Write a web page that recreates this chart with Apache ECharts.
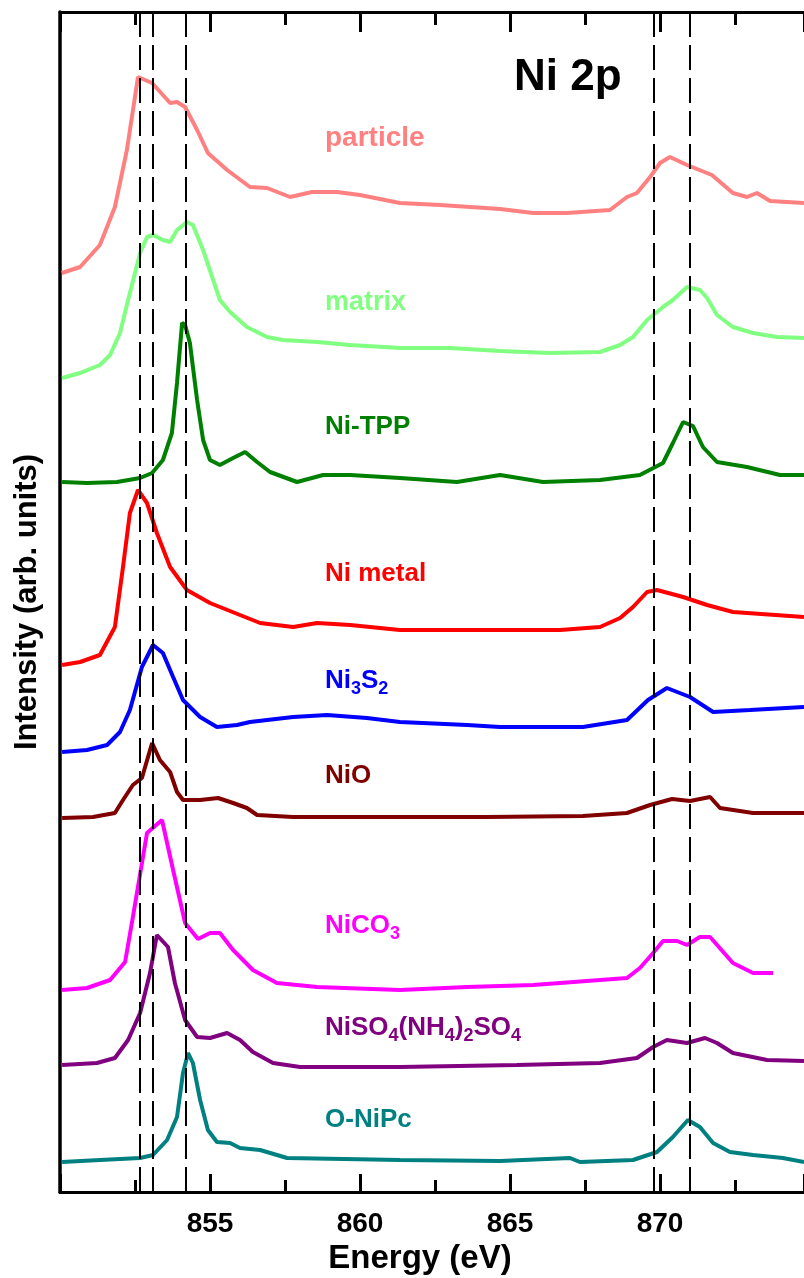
<!DOCTYPE html>
<html>
<head>
<meta charset="utf-8">
<script src="https://cdn.jsdelivr.net/npm/echarts@6/dist/echarts.min.js"></script>
<style>
  html, body { margin: 0; padding: 0; background: #fff; }
  #chart { width: 804px; height: 1278px; }
</style>
</head>
<body>
<div id="chart"></div>
<script>
// Ni 2p spectra, stacked with offsets: [energy (eV), intensity (arb. units)]
const particle = [[850.06, 919], [850.67, 925], [851.33, 947], [851.83, 985], [852.23, 1042], [852.60, 1115], [853.07, 1109], [853.43, 1097], [853.67, 1089], [853.90, 1090], [854.17, 1085], [854.57, 1062], [854.93, 1039], [855.57, 1022], [856.33, 1005], [856.90, 1004], [857.67, 995], [858.40, 1000], [859.23, 1000], [860.00, 997], [861.33, 989], [862.67, 987], [864.67, 983], [865.77, 979], [866.90, 979], [868.33, 982], [868.90, 995], [869.23, 999], [869.67, 1015], [870.00, 1029], [870.33, 1035], [870.90, 1027], [871.73, 1017], [872.43, 999], [872.90, 995], [873.23, 999], [873.67, 991], [874.80, 989]];
const matrix = [[850.07, 814], [850.67, 819], [851.33, 827], [851.67, 837], [852.00, 859], [852.27, 892], [852.67, 939], [852.90, 955], [853.10, 957], [853.43, 952], [853.67, 950], [853.90, 962], [854.23, 970], [854.43, 967], [854.77, 942], [855.33, 892], [855.67, 880], [856.23, 865], [856.90, 855], [857.43, 852], [858.57, 850], [859.67, 847], [861.33, 844], [863.00, 844], [864.67, 841], [866.33, 839], [868.00, 840], [868.67, 847], [869.10, 855], [869.57, 872], [870.10, 885], [870.43, 892], [870.90, 905], [871.33, 902], [871.57, 894], [871.90, 877], [872.43, 865], [873.10, 859], [873.90, 855], [874.80, 854]];
const niTPP = [[850.07, 710], [850.90, 709], [851.90, 710], [852.67, 714], [853.07, 719], [853.43, 732], [853.73, 759], [853.90, 809], [854.07, 869], [854.17, 867], [854.33, 849], [854.57, 792], [854.77, 752], [855.00, 732], [855.33, 727], [855.77, 734], [856.17, 740], [856.57, 730], [857.00, 720], [857.90, 710], [858.77, 717], [859.67, 717], [861.33, 714], [863.23, 710], [864.67, 717], [866.10, 710], [868.00, 712], [869.33, 717], [870.10, 729], [870.43, 749], [870.77, 770], [871.10, 766], [871.43, 745], [871.90, 730], [872.90, 725], [874.00, 717], [874.80, 717]];
const niMetal = [[850.07, 527], [850.67, 530], [851.33, 537], [851.83, 565], [852.10, 625], [852.33, 679], [852.60, 702], [852.90, 689], [853.23, 659], [853.67, 625], [854.23, 602], [855.00, 589], [856.00, 577], [856.67, 569], [857.77, 565], [858.57, 569], [859.67, 567], [861.33, 562], [863.57, 562], [866.67, 562], [868.00, 565], [868.67, 574], [869.10, 585], [869.57, 600], [869.90, 602], [870.77, 595], [871.57, 587], [872.43, 580], [874.80, 575]];
const ni3S2 = [[850.07, 440], [850.90, 442], [851.57, 447], [852.00, 460], [852.33, 482], [852.73, 525], [853.10, 547], [853.43, 539], [853.77, 515], [854.10, 492], [854.67, 475], [855.23, 465], [855.90, 467], [856.33, 470], [857.77, 475], [858.90, 477], [860.23, 474], [861.33, 470], [863.57, 467], [864.67, 465], [867.43, 465], [868.90, 472], [869.60, 492], [870.23, 504], [871.00, 495], [871.77, 480], [873.00, 482], [874.80, 485]];
const niO = [[850.07, 374], [851.10, 375], [851.83, 379], [852.10, 392], [852.43, 407], [852.73, 414], [853.07, 449], [853.33, 432], [853.67, 420], [853.90, 400], [854.10, 392], [854.67, 392], [855.27, 394], [855.77, 389], [856.23, 384], [856.57, 377], [857.77, 375], [861.33, 375], [864.23, 375], [867.43, 376], [868.90, 379], [869.67, 387], [870.40, 393], [871.00, 391], [871.67, 395], [872.00, 384], [873.10, 379], [874.80, 379]];
const niCO3 = [[850.07, 202], [850.90, 204], [851.67, 212], [852.17, 230], [852.43, 275], [852.90, 359], [853.40, 372], [853.77, 322], [854.17, 269], [854.60, 253], [855.00, 259], [855.33, 259], [855.77, 242], [856.43, 222], [857.23, 209], [858.57, 205], [861.33, 202], [863.57, 205], [865.77, 207], [868.90, 214], [869.33, 224], [869.77, 239], [870.10, 251], [870.57, 251], [870.90, 247], [871.33, 255], [871.67, 255], [872.43, 229], [873.10, 219], [873.77, 219]];
const niSO4 = [[850.07, 127], [851.23, 129], [851.83, 134], [852.27, 152], [852.67, 179], [853.00, 219], [853.23, 257], [853.60, 245], [853.83, 209], [854.17, 172], [854.57, 155], [855.00, 154], [855.57, 159], [856.00, 152], [856.43, 140], [857.10, 129], [858.00, 125], [861.33, 125], [865.23, 127], [868.00, 129], [869.23, 134], [869.77, 145], [870.23, 152], [870.90, 149], [871.50, 154], [871.90, 149], [872.43, 139], [873.57, 132], [874.80, 131]];
const oNiPc = [[850.07, 30], [851.33, 32], [852.67, 34], [853.10, 37], [853.57, 52], [853.90, 75], [854.10, 119], [854.27, 139], [854.43, 129], [854.67, 92], [854.93, 62], [855.23, 50], [855.67, 49], [856.00, 44], [856.67, 42], [857.57, 34], [861.33, 32], [864.67, 31], [867.00, 34], [867.33, 30], [869.10, 32], [869.90, 40], [870.43, 55], [870.93, 72], [871.33, 65], [871.77, 49], [872.33, 40], [873.10, 37], [874.10, 34], [874.80, 30]];

// reference peak positions (eV)
const dashedLines = [852.67, 853.08, 854.19, 869.78, 871.0];

const seriesNames = ["particle", "matrix", "Ni-TPP", "Ni metal", "Ni3S2", "NiO", "NiCO3", "NiSO4(NH4)2SO4", "O-NiPc"];
const seriesData = [particle, matrix, niTPP, niMetal, ni3S2, niO, niCO3, niSO4, oNiPc];
const seriesColors = ["#ff8080", "#80ff80", "#008000", "#ff0000", "#0000ff", "#800000", "#ff00ff", "#800080", "#008080"];

const FONT = "'Liberation Sans', Arial, sans-serif";
const measureCtx = document.createElement("canvas").getContext("2d");

// label made of pieces, subscripts drawn smaller and lower
function seriesLabel (x, y, color, parts, size) {
    size = size || 26;
    const children = [];
    let cx = x;
    parts.forEach(p => {
        const fs = p[1] ? Math.round(size * 0.7) : size;
        const font = `bold ${fs}px ${FONT}`;
        measureCtx.font = font;
        children.push({
            type: "text",
            x: cx,
            y: p[1] ? y + 8 : y,
            style: { text: p[0], font: font, fill: color, verticalAlign: "middle", align: "left" }
        });
        cx += measureCtx.measureText(p[0]).width;
    });
    return { type: "group", children: children };
}

const chart = echarts.init(document.getElementById("chart"));
const option = {
    animation: false,
    backgroundColor: "#fff",
    grid: { left: 60, right: 0, top: 12, bottom: 86, containLabel: false, outerBoundsMode: "none" },
    xAxis: [
        {
            type: "value",
            min: 850,
            max: 874.8,
            interval: 5,
            position: "bottom",
            name: "Energy (eV)",
            nameLocation: "middle",
            nameGap: 50,
            nameTextStyle: { fontSize: 33, fontWeight: "bold", fontFamily: FONT, color: "#000", padding: [0, 24, 0, 0] },
            axisLine: { lineStyle: { color: "#000", width: 3 } },
            axisTick: { inside: true, length: 18, lineStyle: { width: 3, color: "#000" } },
            minorTick: { show: true, splitNumber: 2, length: 12, lineStyle: { width: 3, color: "#000" } },
            axisLabel: {
                margin: 18,
                fontSize: 28,
                fontWeight: "bold",
                fontFamily: FONT,
                color: "#000",
                showMinLabel: false,
                showMaxLabel: false,
                formatter: v => (v > 850 && v % 5 === 0 ? String(v) : "")
            },
            splitLine: { show: false }
        },
        {
            type: "value",
            min: 850,
            max: 874.8,
            interval: 5,
            position: "top",
            axisLine: { lineStyle: { color: "#000", width: 3 } },
            axisTick: { inside: true, length: 20, lineStyle: { width: 3, color: "#000" } },
            minorTick: { show: true, splitNumber: 2, length: 13, lineStyle: { width: 3, color: "#000" } },
            axisLabel: { show: false },
            splitLine: { show: false }
        }
    ],
    yAxis: {
        type: "value",
        min: 0,
        max: 1180,
        name: "Intensity (arb. units)",
        nameLocation: "middle",
        nameGap: 17,
        nameTextStyle: { fontSize: 31, fontWeight: "bold", fontFamily: FONT, color: "#000" },
        axisLine: { show: true, lineStyle: { color: "#000", width: 3.5 } },
        axisTick: { show: false },
        axisLabel: { show: false },
        splitLine: { show: false }
    },
    series: seriesData.map((d, i) => {
        const s = {
            name: seriesNames[i],
            type: "line",
            data: d,
            symbol: "none",
            lineStyle: { color: seriesColors[i], width: 4 },
            itemStyle: { color: seriesColors[i] }
        };
        if (i === 0) {
            s.markLine = {
                silent: true,
                symbol: "none",
                label: { show: false },
                lineStyle: { color: "#000", width: 2, type: [25, 8] },
                data: dashedLines.map(x => ({ xAxis: x }))
            };
        }
        return s;
    }),
    graphic: [
        {
            type: "text",
            x: 514,
            y: 78,
            style: { text: "Ni 2p", font: "bold 44px " + FONT, fill: "#000", verticalAlign: "middle" }
        },
        seriesLabel(325, 138, seriesColors[0], [["particle", false]], 28),
        seriesLabel(325, 303, seriesColors[1], [["matrix", false]], 27),
        seriesLabel(325, 427, seriesColors[2], [["Ni-TPP", false]]),
        seriesLabel(325, 574, seriesColors[3], [["Ni metal", false]]),
        seriesLabel(325, 681, seriesColors[4], [["Ni", false], ["3", true], ["S", false], ["2", true]]),
        seriesLabel(325, 776, seriesColors[5], [["NiO", false]]),
        seriesLabel(325, 926, seriesColors[6], [["NiCO", false], ["3", true]]),
        seriesLabel(325, 1028, seriesColors[7], [["NiSO", false], ["4", true], ["(NH", false], ["4", true], [")", false], ["2", true], ["SO", false], ["4", true]]),
        seriesLabel(325, 1120, seriesColors[8], [["O-NiPc", false]])
    ]
};
chart.setOption(option);
</script>
</body>
</html>
